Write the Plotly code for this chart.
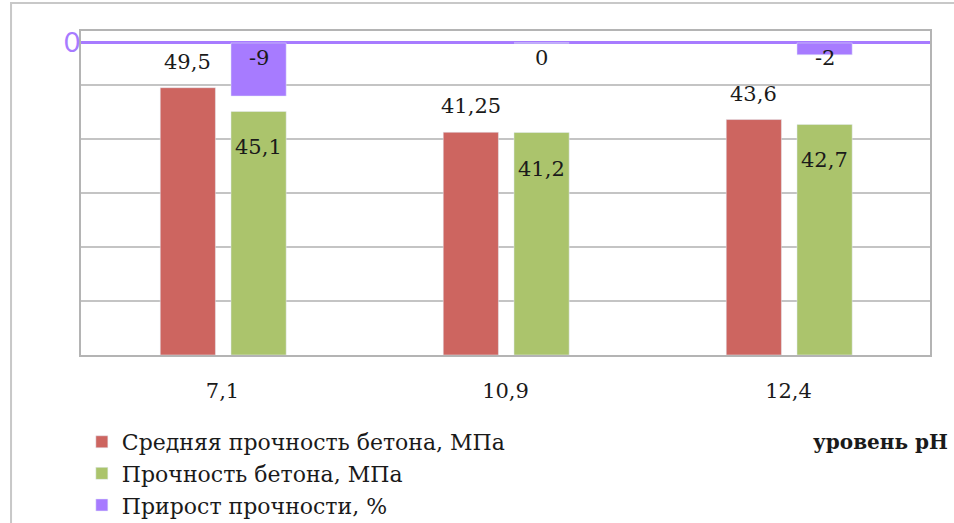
import plotly.graph_objects as go

# --- data ---
ph_labels = ["7,1", "10,9", "12,4"]
avg_strength = [49.5, 41.25, 43.6]      # Средняя прочность бетона, МПа
strength = [45.1, 41.2, 42.7]           # Прочность бетона, МПа
growth = [-9, 0, -2]                    # Прирост прочности, %

RED = "#CD6560"
GREEN = "#ABC46C"
PURPLE = "#A77BFF"
SERIF = "DejaVu Serif"

BAR_W = 0.195
RED_OFF = -0.22
GREEN_OFF = 0.03

x = list(range(len(ph_labels)))


def fmt(v):
    return f"{v:g}".replace(".", ",")


fig = go.Figure()
fig.add_trace(go.Bar(
    x=x, y=avg_strength, name="Средняя прочность бетона, МПа",
    marker_color=RED, width=BAR_W, offset=RED_OFF,
))
fig.add_trace(go.Bar(
    x=x, y=strength, name="Прочность бетона, МПа",
    marker_color=GREEN, width=BAR_W, offset=GREEN_OFF,
))
fig.add_trace(go.Bar(
    x=x, y=growth, name="Прирост прочности, %", yaxis="y2",
    marker_color=PURPLE, width=BAR_W, offset=GREEN_OFF,
))

label_font = dict(family=SERIF, size=21, color="#1a1a1a")
for i in x:
    fig.add_annotation(
        x=i + RED_OFF + BAR_W / 2, y=avg_strength[i], text=fmt(avg_strength[i]),
        showarrow=False, yanchor="bottom", yshift=12, font=label_font,
    )
    fig.add_annotation(
        x=i + GREEN_OFF + BAR_W / 2, y=strength[i], text=fmt(strength[i]),
        showarrow=False, yanchor="top", yshift=-22, font=label_font,
    )
    fig.add_annotation(
        x=i + GREEN_OFF + BAR_W / 2, y=0, yref="y2", text=fmt(growth[i]),
        showarrow=False, yanchor="top", yshift=-1, font=label_font,
    )

fig.add_annotation(
    xref="paper", yref="paper", x=1.024, y=-0.2685, xanchor="right", yanchor="middle",
    text="<b>уровень рН</b>", showarrow=False,
    font=dict(family=SERIF, size=20, color="#1a1a1a"),
)

# outer chart frame
fig.add_shape(
    type="rect", xref="paper", yref="paper",
    x0=-0.0824, x1=1.05, y0=-0.6, y1=1.0864,
    line=dict(color="#c8c8c8", width=2), fillcolor="rgba(0,0,0,0)", layer="below",
)

fig.update_layout(
    width=954, height=523,
    margin=dict(l=81, r=24, t=31, b=168, autoexpand=False),
    paper_bgcolor="white", plot_bgcolor="white",
    barmode="overlay",
    showlegend=True,
    legend=dict(
        x=0.001, y=-0.2036, xanchor="left", yanchor="top", orientation="v",
        font=dict(family=SERIF, size=22, color="#1a1a1a"),
        bgcolor="rgba(0,0,0,0)", itemclick=False,
    ),
    xaxis=dict(
        range=[-0.5, 2.5], tickvals=x, ticktext=ph_labels,
        showgrid=False, zeroline=False, ticks="",
        showline=True, linecolor="#b4b4b4", linewidth=2, mirror=True,
        ticklabelstandoff=16,
        tickfont=dict(family=SERIF, size=21, color="#1a1a1a"),
    ),
    yaxis=dict(
        range=[0, 60], dtick=10, showticklabels=False, ticks="",
        showgrid=True, gridcolor="#c4c4c4", gridwidth=2, zeroline=False,
        showline=True, linecolor="#b4b4b4", linewidth=2, mirror=True,
    ),
    yaxis2=dict(
        overlaying="y", side="left", range=[-52.9, 2.03],
        tickvals=[0], ticktext=["0"], ticks="", showgrid=False,
        zeroline=True, zerolinecolor=PURPLE, zerolinewidth=3,
        tickfont=dict(family="Lato", size=27, color=PURPLE),
    ),
)

# page body has an 8px default margin; drop it so the figure fills the window
fig.write_html(
    "out.html",
    config={"displayModeBar": False},
    post_script="document.body.style.margin = '0';",
)
